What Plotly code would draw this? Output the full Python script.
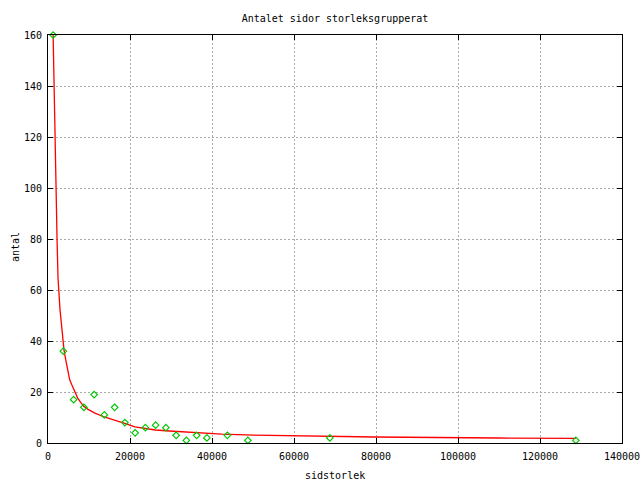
import plotly.graph_objects as go

# Observed data (bin centres of page size, count)
sizes = [1250, 3750, 6250, 8750, 11250, 13750, 16250, 18750, 21250, 23750,
         26250, 28750, 31250, 33750, 36250, 38750, 43750, 48750, 68750, 128750]
counts = [160, 36, 17, 14, 19, 11, 14, 8, 4, 6,
          7, 6, 3, 1, 3, 2, 3, 1, 2, 1]

# Fitted curve
curve_x = [1250, 1460, 1710, 1950, 2200, 2440, 2680, 2930, 3170, 3410, 3660, 3900,
           4320, 4800, 5290, 5780, 6510, 7240, 7980, 8710, 9680, 11300, 13700,
           16500, 18900, 21200, 23600, 26200, 29600, 33400, 37200, 42400, 50200,
           61800, 79700, 110000, 128750]
curve_y = [160, 139.7, 120.1, 100.3, 80.5, 64.8, 56.6, 52.3, 48.4, 44.4, 40.5, 36.5,
           32.7, 28.1, 24.8, 22.9, 20.1, 17.6, 15.9, 14.4, 13.3, 11.8, 10.2,
           8.9, 7.6, 6.3, 5.7, 5.1, 4.7, 4.3, 3.9, 3.5, 3.1,
           2.75, 2.35, 1.96, 1.85]

FONT = "DejaVu Sans Mono"

fig = go.Figure()
fig.add_trace(go.Scatter(x=curve_x, y=curve_y, mode="lines",
                         line=dict(color="#ff0000", width=1.3),
                         hoverinfo="skip"))
fig.add_trace(go.Scatter(x=sizes, y=counts, mode="markers",
                         marker=dict(symbol="diamond-open", size=5,
                                     color="#00c800", line=dict(width=1.2)),
                         cliponaxis=False, hoverinfo="skip"))

axis_common = dict(showline=True, linecolor="black", linewidth=1, mirror="ticks",
                   ticks="inside", ticklen=5, tickcolor="black", tickwidth=1,
                   showgrid=True, gridcolor="#a8a8a8", gridwidth=1,
                   griddash="2px,2px", zeroline=False,
                   tickfont=dict(family=FONT, size=10, color="black"))

fig.update_xaxes(range=[0, 140000], dtick=20000, tick0=0, tickformat="d",
                 ticklabelstandoff=4, ticklabeloverflow="allow", **axis_common)
fig.update_yaxes(range=[0, 160], dtick=20, tick0=0, tickformat="d",
                 ticklabelstandoff=3, **axis_common)

fig.update_layout(
    width=640, height=480,
    margin=dict(l=48, r=18, t=35, b=37, autoexpand=False),
    paper_bgcolor="white", plot_bgcolor="white",
    showlegend=False,
    hovermode=False,
    title=dict(text="Antalet sidor storleksgrupperat", x=335/640, xanchor="center",
               y=1 - 18/480, yanchor="middle", yref="container",
               font=dict(family=FONT, size=10, color="black")),
    annotations=[
        dict(text="sidstorlek", xref="paper", yref="paper", x=0.5, y=-32/408,
             xanchor="center", yanchor="middle", showarrow=False,
             font=dict(family=FONT, size=10, color="black")),
        dict(text="antal", xref="paper", yref="paper", x=-33/574, y=0.5,
             xanchor="center", yanchor="middle", showarrow=False, textangle=-90,
             yshift=-8, font=dict(family=FONT, size=10, color="black")),
    ],
)

fig.write_html("out.html", config={"displayModeBar": False},
               post_script="document.body.style.margin='0';")
